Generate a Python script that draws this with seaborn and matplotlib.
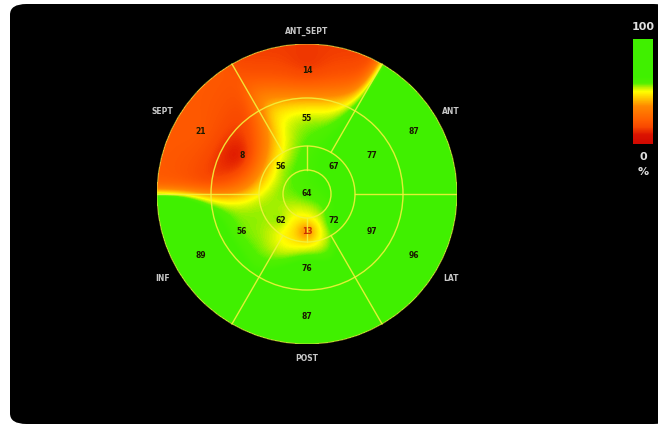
import numpy as np
import seaborn as sns
import matplotlib
matplotlib.use("Agg")
import matplotlib.pyplot as plt
from matplotlib.colors import LinearSegmentedColormap
from matplotlib.patches import FancyBboxPatch, Circle

# segment values, counter-clockwise starting from ANT (right-upper)
basal_values  = [87, 14, 21, 89, 87, 96]
mid_values    = [77, 55, 8, 56, 76, 97]
apical_values = [67, 56, 62, 72]
apical_inf    = 13
apex_value    = 64
wall_labels   = ["ANT", "ANT_SEPT", "SEPT", "INF", "POST", "LAT"]
cbar_labels   = ["100", "0", "%"]

W, H = 658, 427

### geometry of the bullseye (unit circle) ###
R_BASAL, R_MID, R_APICAL, R_APEX = 1.0, 0.64, 0.32, 0.16

def polar(ang_deg, r):
    a = np.deg2rad(ang_deg)
    return r * np.cos(a), r * np.sin(a)

pts, vals = [], []
for k, v in enumerate(basal_values):
    pts.append(polar(30 + 60 * k, 0.82)); vals.append(v)
for k, v in enumerate(mid_values):
    pts.append(polar(30 + 60 * k, 0.50)); vals.append(v)
for k, v in enumerate(apical_values):
    pts.append(polar(45 + 90 * k, 0.25)); vals.append(v)
pts.append(polar(270, 0.25)); vals.append(apical_inf)
pts.append((0.0, 0.0)); vals.append(apex_value)
pts = np.array(pts)
vals = np.array(vals, dtype=float)

def smooth(x, y, sigma=0.155):
    d2 = (x[..., None] - pts[:, 0]) ** 2 + (y[..., None] - pts[:, 1]) ** 2
    w = np.exp(-d2 / (2 * sigma ** 2))
    return (w * vals).sum(-1) / w.sum(-1)

# smooth field plus part of the local residual put back as narrow bumps
N = 300
xs = -1 + (np.arange(N) + 0.5) * 2 / N
ys = xs[::-1]
gx, gy = np.meshgrid(xs, ys)
pr = np.hypot(pts[:, 0], pts[:, 1])
resid = vals - smooth(pts[:, 0], pts[:, 1])
bump_sigma = np.clip(0.18 * pr, 0.04, 0.1)
bump_amp = 0.55 * np.clip(pr / 0.5, 0.3, 1.0)
d2 = (gx[..., None] - pts[:, 0]) ** 2 + (gy[..., None] - pts[:, 1]) ** 2
field = smooth(gx, gy) + (bump_amp * resid * np.exp(-d2 / (2 * bump_sigma ** 2))).sum(-1)
outside = gx ** 2 + gy ** 2 > 1.0

cmap = LinearSegmentedColormap.from_list(
    "polar", [(0.0, "#d00800"), (0.09, "#dc1400"), (0.16, "#f84800"),
              (0.22, "#ff5c00"), (0.36, "#ff8800"), (0.5, "#ffff00"),
              (0.54, "#b8f000"), (0.58, "#50f000"), (0.64, "#40f000"),
              (1.0, "#40f000")])

fig = plt.figure(figsize=(W / 100, H / 100), dpi=100)
fig.patch.set_facecolor("white")
fig.patches.append(FancyBboxPatch((10 / W, 2 / H), 660 / W, 420 / H,
                                  boxstyle="round,pad=0,rounding_size=0.025",
                                  transform=fig.transFigure, facecolor="black",
                                  edgecolor="none", zorder=-10))

cx, cy, rad = 307, 195, 150
pos = [(cx - rad) / W, (H - cy - rad) / H, 2 * rad / W, 2 * rad / H]
ax = fig.add_axes(pos)
cax = fig.add_axes([633 / W, (H - 145) / H, 20 / W, 105 / H])

sns.heatmap(field, mask=outside, cmap=cmap, vmin=0, vmax=100, ax=ax, cbar_ax=cax,
            xticklabels=False, yticklabels=False, cbar_kws={"ticks": []})
ax.set_facecolor("none")
ax.collections[0].colorbar.outline.set_visible(False)

# overlay for segment borders and labels
ov = fig.add_axes(pos)
ov.set_xlim(-1, 1)
ov.set_ylim(-1, 1)
ov.axis("off")
ov.patch.set_alpha(0)

line_kw = dict(color="#f2f23c", lw=1.0, alpha=0.9)
for r in (R_MID, R_APICAL, R_APEX):
    ov.add_patch(Circle((0, 0), r, fill=False, **line_kw))
ov.add_patch(Circle((0, 0), R_BASAL, fill=False, color="#e8e040", lw=0.8, alpha=0.7))
for ang in (60, 120, 240, 300, 0, 180):
    x0, y0 = polar(ang, R_APICAL)
    x1, y1 = polar(ang, R_BASAL)
    ov.plot([x0, x1], [y0, y1], **line_kw)
for ang in (90, 270):
    x0, y0 = polar(ang, R_APEX)
    x1, y1 = polar(ang, R_APICAL)
    ov.plot([x0, x1], [y0, y1], **line_kw)

for (x, y), v in zip(pts, vals):
    col = "#c83000" if v == apical_inf else "#1a1a00"
    ov.text(x, y + 0.01, f"{int(v)}", ha="center", va="center", fontsize=5.5,
            fontweight="bold", color=col)

for k, lab in enumerate(wall_labels):
    ang = 30 + 60 * k
    r = 1.09 if ang in (90, 270) else 1.11
    x, y = polar(ang, r)
    ov.text(x, y, lab, ha="center", va="center", fontsize=5.5, color="#c8c8c8",
            fontweight="bold", clip_on=False)

fig.text(643 / W, 1 - 27 / H, cbar_labels[0], ha="center", va="center",
         fontsize=8, color="#e0e0e0", fontweight="bold")
fig.text(643 / W, 1 - 157 / H, cbar_labels[1], ha="center", va="center",
         fontsize=8, color="#e0e0e0", fontweight="bold")
fig.text(643 / W, 1 - 172 / H, cbar_labels[2], ha="center", va="center",
         fontsize=8, color="#e0e0e0", fontweight="bold")

fig.savefig("out.png", dpi=100, facecolor=fig.get_facecolor())
